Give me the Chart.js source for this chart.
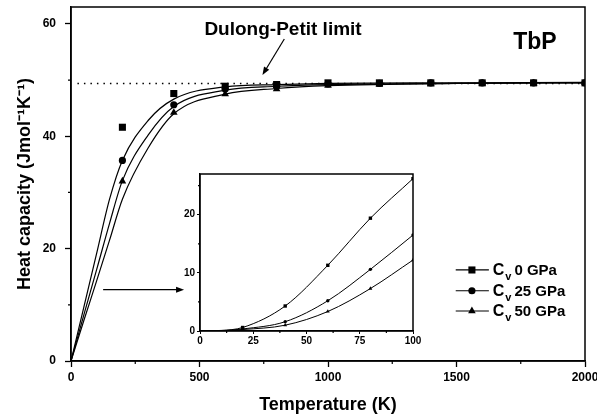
<!DOCTYPE html>
<html>
<head>
<meta charset="utf-8">
<script src="https://cdn.jsdelivr.net/npm/chart.js@4.4.0/dist/chart.umd.min.js"></script>
<style>
  html, body { margin: 0; padding: 0; background: #fff; }
  #wrap { position: relative; width: 597px; height: 420px; }
  #mainChart { position: absolute; left: 0; top: 0; }
  #insetChart { position: absolute; left: 160px; top: 165px; }
</style>
</head>
<body>
<div id="wrap">
  <canvas id="mainChart" width="597" height="420"></canvas>
  <canvas id="insetChart" width="265" height="190"></canvas>
</div>
<script>
const fontFam = '"Liberation Sans", Arial, sans-serif';

// Debye curves (lines), J mol-1 K-1
const fitT = [0, 50, 100, 150, 200, 300, 400, 600, 800, 1000, 1500, 2000];
const fit0GPa = [0, 9.6, 19.2, 28.8, 35.7, 42.8, 46.6, 48.8, 49.2, 49.4, 49.5, 49.6];
const fit25GPa = [0, 8.2, 16.3, 24.5, 32.1, 40.2, 45.3, 48.2, 48.9, 49.2, 49.4, 49.5];
const fit50GPa = [0, 7.2, 14.3, 21.5, 28.8, 37.9, 44.0, 47.5, 48.5, 49.0, 49.4, 49.5];

// calculated Cv (symbols)
const symT = [200, 400, 600, 800, 1000, 1200, 1400, 1600, 1800, 2000];
const cv0GPa = [41.6, 47.6, 48.9, 49.2, 49.5, 49.5, 49.5, 49.5, 49.5, 49.5];
const cv25GPa = [35.7, 45.6, 48.4, 48.9, 49.3, 49.4, 49.5, 49.5, 49.5, 49.5];
const cv50GPa = [32.0, 44.2, 47.5, 48.4, 49.0, 49.2, 49.3, 49.4, 49.4, 49.5];

// low temperature part (inset)
const insetT = [0, 10, 20, 40, 60, 80, 100];
const insetCv0GPa = [0, 0.1, 0.6, 4.3, 11.3, 19.4, 26.2];
const insetCv25GPa = [0, 0.05, 0.35, 1.6, 5.2, 10.6, 16.5];
const insetCv50GPa = [0, 0.03, 0.25, 1.0, 3.35, 7.3, 12.2];

const dulongPetit = 49.4;
const pressures = ['0 GPa', '25 GPa', '50 GPa'];
const symbols = ['rect', 'circle', 'triangle'];

const xy = (xs, ys) => xs.map((x, i) => ({ x: x, y: ys[i] }));

function arrow(ctx, x1, y1, x2, y2) {
  const a = Math.atan2(y2 - y1, x2 - x1);
  ctx.beginPath();
  ctx.moveTo(x1, y1);
  ctx.lineTo(x2 - 5 * Math.cos(a), y2 - 5 * Math.sin(a));
  ctx.stroke();
  ctx.beginPath();
  ctx.moveTo(x2, y2);
  ctx.lineTo(x2 - 8 * Math.cos(a) + 3 * Math.sin(a), y2 - 8 * Math.sin(a) - 3 * Math.cos(a));
  ctx.lineTo(x2 - 8 * Math.cos(a) - 3 * Math.sin(a), y2 - 8 * Math.sin(a) + 3 * Math.cos(a));
  ctx.closePath();
  ctx.fill();
}

function minorTicks(chart, xVals, yVals, len) {
  const { ctx, chartArea: a, scales: { x, y } } = chart;
  ctx.save();
  ctx.strokeStyle = '#000';
  ctx.lineWidth = 1.2;
  ctx.beginPath();
  xVals.forEach(v => {
    const px = x.getPixelForValue(v);
    ctx.moveTo(px, a.bottom);
    ctx.lineTo(px, a.bottom + len);
  });
  yVals.forEach(v => {
    const py = y.getPixelForValue(v);
    ctx.moveTo(a.left, py);
    ctx.lineTo(a.left - len, py);
  });
  ctx.stroke();
  ctx.restore();
}

const framePlugin = {
  id: 'frame',
  afterDraw(chart) {
    const { ctx, chartArea: a } = chart;
    ctx.save();
    ctx.strokeStyle = '#000';
    ctx.lineWidth = 1.5;
    ctx.strokeRect(a.left, a.top, a.right - a.left, a.bottom - a.top);
    ctx.restore();
  }
};

const mainExtras = {
  id: 'mainExtras',
  afterDraw(chart) {
    const { ctx, scales: { x, y } } = chart;
    minorTicks(chart, [250, 750, 1250, 1750], [10, 30, 50], 3);

    ctx.save();
    ctx.fillStyle = '#000';
    ctx.strokeStyle = '#000';
    ctx.lineWidth = 1.2;

    // arrow pointing to the inset
    arrow(ctx, x.getPixelForValue(125), y.getPixelForValue(12.7),
      x.getPixelForValue(440), y.getPixelForValue(12.7));
    // arrow to the limit line
    arrow(ctx, x.getPixelForValue(830), y.getPixelForValue(57.3),
      x.getPixelForValue(745), y.getPixelForValue(50.9));

    ctx.textAlign = 'center';
    ctx.textBaseline = 'middle';
    ctx.font = 'bold 19px ' + fontFam;
    ctx.fillText('Dulong-Petit limit', x.getPixelForValue(825), y.getPixelForValue(59));
    ctx.font = 'bold 23px ' + fontFam;
    ctx.fillText('TbP', x.getPixelForValue(1805), y.getPixelForValue(56.7));

    // legend: line + symbol, then C_v label
    const rows = [16.2, 12.5, 8.9];
    const sizes = [5, 3.6, 4.4];
    pressures.forEach((p, i) => {
      const py = y.getPixelForValue(rows[i]);
      const x1 = x.getPixelForValue(1497), x2 = x.getPixelForValue(1626);
      ctx.beginPath();
      ctx.moveTo(x1, py);
      ctx.lineTo(x2, py);
      ctx.stroke();
      Chart.helpers.drawPoint(ctx, { pointStyle: symbols[i], radius: sizes[i], rotation: 0, borderWidth: 0 },
        x.getPixelForValue(1560), py);
      let tx = x.getPixelForValue(1641);
      ctx.textAlign = 'left';
      ctx.textBaseline = 'alphabetic';
      ctx.font = 'bold 16px ' + fontFam;
      ctx.fillText('C', tx, py + 5);
      tx += ctx.measureText('C').width + 1;
      ctx.font = 'bold 11px ' + fontFam;
      ctx.fillText('v', tx, py + 10);
      tx += ctx.measureText('v').width + 3;
      ctx.font = 'bold 15px ' + fontFam;
      ctx.fillText(p, tx, py + 5);
    });
    ctx.restore();
  }
};

const insetExtras = {
  id: 'insetExtras',
  afterDraw(chart) {
    minorTicks(chart, [12.5, 37.5, 62.5, 87.5], [5, 15, 25], 2);
  }
};

const tickFont = { family: fontFam, size: 12, weight: 'bold' };
const titleFont = { family: fontFam, size: 18, weight: 'bold' };

const lineSet = (xs, ys) => ({
  data: xy(xs, ys),
  borderColor: '#000',
  borderWidth: 1.2,
  pointRadius: 0,
  cubicInterpolationMode: 'monotone'
});
const symbolSet = (ys, i, r) => ({
  data: xy(symT, ys),
  showLine: false,
  pointStyle: symbols[i],
  pointRadius: r,
  pointBackgroundColor: '#000',
  pointBorderWidth: 0
});

new Chart(document.getElementById('mainChart'), {
  type: 'line',
  data: {
    datasets: [
      {
        data: xy([25, 2000], [dulongPetit, dulongPetit]),
        borderColor: '#000',
        borderWidth: 1.5,
        borderDash: [1.5, 5],
        pointRadius: 0
      },
      lineSet(fitT, fit0GPa),
      lineSet(fitT, fit25GPa),
      lineSet(fitT, fit50GPa),
      symbolSet(cv0GPa, 0, 5),
      symbolSet(cv25GPa, 1, 3.6),
      symbolSet(cv50GPa, 2, 4.4)
    ]
  },
  options: {
    responsive: false,
    animation: false,
    layout: { padding: { left: 0, right: 12, top: 7, bottom: 0 } },
    plugins: { legend: { display: false }, tooltip: { enabled: false } },
    scales: {
      x: {
        type: 'linear',
        min: 0,
        max: 2000,
        ticks: { stepSize: 500, color: '#000', font: tickFont, padding: 3, callback: v => String(v) },
        grid: { drawOnChartArea: false, tickLength: 6, tickColor: '#000', tickWidth: 1.3 },
        border: { color: '#000', width: 1.5 },
        title: { display: true, text: 'Temperature (K)', color: '#000', font: titleFont, padding: { top: 0, bottom: 4 } },
        afterFit(s) { s.height = 59; s.paddingLeft = 0; s.paddingRight = 0; }
      },
      y: {
        min: 0,
        max: 63,
        ticks: { stepSize: 20, includeBounds: false, color: '#000', font: tickFont, padding: 9, callback: v => String(v) },
        grid: { drawOnChartArea: false, tickLength: 6, tickColor: '#000', tickWidth: 1.3 },
        border: { color: '#000', width: 1.5 },
        title: { display: true, text: 'Heat capacity (Jmol\u207B\u00B9K\u207B\u00B9)', color: '#000', font: titleFont, padding: { top: 14, bottom: 0 } },
        afterFit(s) { s.width = 71; s.paddingTop = 0; s.paddingBottom = 0; }
      }
    }
  },
  plugins: [framePlugin, mainExtras]
});

const insetSet = (ys, i, r) => ({
  data: xy(insetT, ys),
  borderColor: '#000',
  borderWidth: 1,
  cubicInterpolationMode: 'monotone',
  pointStyle: symbols[i],
  pointRadius: insetT.map(t => (t >= 20 ? r : 0)),
  pointBackgroundColor: '#000',
  pointBorderWidth: 0
});

const insetFont = { family: fontFam, size: 10, weight: 'bold' };

new Chart(document.getElementById('insetChart'), {
  type: 'line',
  data: {
    datasets: [
      insetSet(insetCv0GPa, 0, 2.4),
      insetSet(insetCv25GPa, 1, 1.7),
      insetSet(insetCv50GPa, 2, 2.2)
    ]
  },
  options: {
    responsive: false,
    animation: false,
    layout: { padding: { left: 0, right: 12, top: 9, bottom: 0 } },
    plugins: { legend: { display: false }, tooltip: { enabled: false } },
    scales: {
      x: {
        type: 'linear',
        min: 0,
        max: 100,
        ticks: { stepSize: 25, color: '#000', font: insetFont, padding: 1, callback: v => String(v) },
        grid: { drawOnChartArea: false, tickLength: 3, tickColor: '#000', tickWidth: 1 },
        border: { color: '#000', width: 1.3 },
        afterFit(s) { s.height = 24; s.paddingLeft = 0; s.paddingRight = 0; }
      },
      y: {
        min: 0,
        max: 27,
        ticks: { stepSize: 10, includeBounds: false, color: '#000', font: insetFont, padding: 2, callback: v => String(v) },
        grid: { drawOnChartArea: false, tickLength: 3, tickColor: '#000', tickWidth: 1 },
        border: { color: '#000', width: 1.3 },
        afterFit(s) { s.width = 40; s.paddingTop = 0; s.paddingBottom = 0; }
      }
    }
  },
  plugins: [framePlugin, insetExtras]
});
</script>
</body>
</html>
